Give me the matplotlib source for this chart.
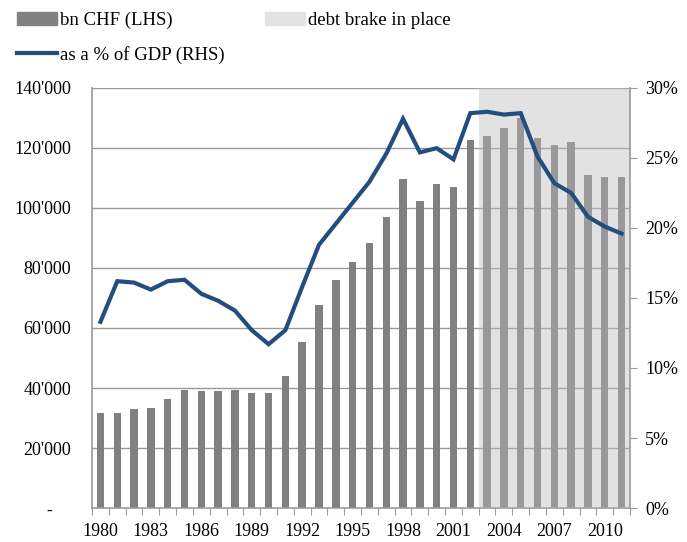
import numpy as np
import matplotlib
matplotlib.use("Agg")
import matplotlib.pyplot as plt
from matplotlib.patches import Patch
from matplotlib.lines import Line2D

plt.rcParams['font.family'] = ['Liberation Serif', 'DejaVu Serif']

years = list(range(1980, 2012))
debt_chf = [31600, 31600, 33100, 33500, 36400, 39300, 38900, 38900, 39300, 38300,
            38300, 44100, 55200, 67700, 76000, 82000, 88400, 97100, 109600, 102300,
            108100, 107100, 122600, 124000, 126800, 130000, 123400, 121000, 122000, 111000,
            110400, 110400]
debt_pct = [13.3, 16.2, 16.1, 15.6, 16.2, 16.3, 15.3, 14.8, 14.1, 12.7,
            11.7, 12.7, 15.8, 18.8, 20.3, 21.8, 23.3, 25.3, 27.8, 25.4,
            25.7, 24.9, 28.2, 28.3, 28.1, 28.2, 25.1, 23.2, 22.5, 20.8,
            20.1, 19.6]
brake_start = 2003
left_ticks = [0, 20000, 40000, 60000, 80000, 100000, 120000, 140000]
left_labels = ['-    ', "20'000", "40'000", "60'000", "80'000", "100'000", "120'000", "140'000"]
right_ticks = [0, 5, 10, 15, 20, 25, 30]
xlabel_years = list(range(1980, 2012, 3))

grid_c = '#9a9a9a'
bar_c = '#808080'
line_c = '#234d80'

fig = plt.figure(figsize=(6.87, 5.42), dpi=100)
ax = fig.add_axes([0.134, 0.0627, 0.783, 0.775])
x = np.arange(len(years))

ax.bar(x, debt_chf, width=0.44, color=bar_c, zorder=2)
ax.set_ylim(0, 140000)
ax.set_xlim(-0.5, len(years) - 0.5)
ax.set_yticks(left_ticks)
ax.set_yticklabels(left_labels)
for v in left_ticks[1:]:
    ax.axhline(v, color=grid_c, lw=1.0, zorder=1)
# debt brake shading drawn over bars
i0 = years.index(brake_start)
ax.axvspan(i0 - 0.5, len(years) - 0.5, color='#bcbcbc', alpha=0.42, lw=0, zorder=3)

ax.set_xticks(np.arange(len(years) + 1) - 0.5, minor=False)
ax.set_xticklabels([])
ax.tick_params(axis='x', which='major', length=5, color=grid_c, direction='out')
ax.set_xticks([years.index(y) for y in xlabel_years], minor=True)
ax.set_xticklabels([str(y) for y in xlabel_years], minor=True)
ax.tick_params(axis='x', which='minor', length=0, pad=11, labelsize=13)
ax.tick_params(axis='y', length=0, pad=15, labelsize=13)

for s in ['top', 'right']:
    ax.spines[s].set_visible(False)
for s in ['left', 'bottom']:
    ax.spines[s].set_color(grid_c)
    ax.spines[s].set_linewidth(1.2)

ax2 = ax.twinx()
ax2.plot(x, debt_pct, color=line_c, lw=3.0, zorder=5, solid_joinstyle='miter')
ax2.set_ylim(0, 30)
ax2.set_yticks(right_ticks)
ax2.set_yticklabels([f'{t}%' for t in right_ticks])
ax2.tick_params(axis='y', length=5, color=grid_c, pad=6, labelsize=13)
for s in ['top', 'left', 'bottom']:
    ax2.spines[s].set_visible(False)
ax2.spines['right'].set_color(grid_c)
ax2.spines['right'].set_linewidth(1.2)

# legend filled column-wise, so order puts the line below the bars entry
handles = [Patch(color=bar_c), Line2D([0], [0], color=line_c, lw=3),
           Patch(color='#e3e3e3')]
labels = ['bn CHF (LHS)', 'as a % of GDP (RHS)', 'debt brake in place']
fig.legend(handles, labels, loc='upper left', bbox_to_anchor=(0.006, 1.003), ncol=2,
           frameon=False, fontsize=13.5, handlelength=2.1, handletextpad=0.2,
           columnspacing=2.15, labelspacing=0.9, borderaxespad=0.3)

fig.savefig('out.png', dpi=100)
